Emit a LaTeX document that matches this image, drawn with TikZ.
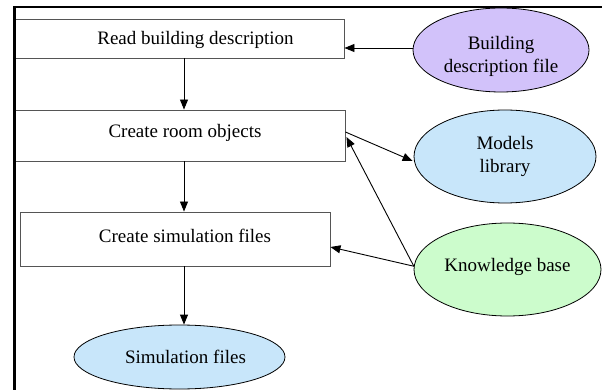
\documentclass[tikz,border=0pt]{standalone}
\usepackage{fontspec}
\setmainfont{Liberation Serif}
\newfontfamily\tnrfont{Liberation Serif}
\usetikzlibrary{shapes.geometric,arrows.meta,calc}
\definecolor{lav}{HTML}{D2C2FA}
\definecolor{skyb}{HTML}{C8E6FA}
\definecolor{mint}{HTML}{CCFCCC}
\definecolor{boxline}{HTML}{555555}
\tikzset{
  stepbox/.style={draw=boxline, line width=0.9pt, rectangle, inner sep=0pt, fill=white},
  oval/.style={draw=black, line width=0.8pt, ellipse, inner sep=0pt},
  conn/.style={line width=0.9pt, -{Triangle[length=10pt,width=8pt]}},
  every node/.style={font=\tnrfont\fontsize{19}{23}\selectfont},
  every label/.style={font=\tnrfont\fontsize{19}{23}\selectfont},
}
\begin{document}
\begin{tikzpicture}[x=1pt,y=-1pt]
\useasboundingbox (0,0) rectangle (602,390);
% boxes
\node[stepbox, minimum width=330pt, minimum height=39pt, label={[xshift=16.5pt,yshift=-1.5pt]center:Read building description}] (b1) at (179,38.5) {};
\node[stepbox, minimum width=330pt, minimum height=51pt, label={[xshift=5pt,yshift=3pt]center:Create room objects}] (b2) at (180,135.5) {};
\node[stepbox, minimum width=310pt, minimum height=54pt, label={[xshift=10pt,yshift=3pt]center:Create simulation files}] (b3) at (175,239) {};
% ellipses
\node[oval, fill=skyb, minimum width=211pt, minimum height=64pt, label={[xshift=6pt]center:Simulation files}] (sim) at (179.5,357) {};
\node[oval, fill=lav, minimum width=176pt, minimum height=84pt, label={[yshift=-6pt,align=center]center:Building\\description file}] (bdf) at (501,50) {};
\node[oval, fill=skyb, minimum width=182pt, minimum height=93pt, align=center] (ml) at (505,156.5) {Models\\library};
\node[oval, fill=mint, minimum width=187pt, minimum height=93pt, label={[yshift=3pt]center:Knowledge base}] (kb) at (507.5,269.5) {};
% connectors
\coordinate (ax) at (184,0);
\draw[conn] (bdf.west) ++(0,-2) coordinate (bdfw) -- (b1.east |- bdfw);
\draw[conn] (b1.south -| ax) -- (b2.north -| ax);
\draw[conn] (b2.south -| ax) -- (b3.north -| ax);
\draw[conn] (b3.south -| ax) -- (sim.north -| ax);
\draw[conn] ($(b2.east)+(0,-3.5)$) -- ($(ml.west)+(-1,4.5)$);
\draw[conn] (kb.178) -- ($(b2.east)+(1,1.5)$);
\draw[conn] (kb.178) -- ($(b3.east)+(0,8)$);
% frame
\draw[line width=2.5pt] (14.5,390) -- (14.5,7) -- (602,7);
\end{tikzpicture}
\end{document}
